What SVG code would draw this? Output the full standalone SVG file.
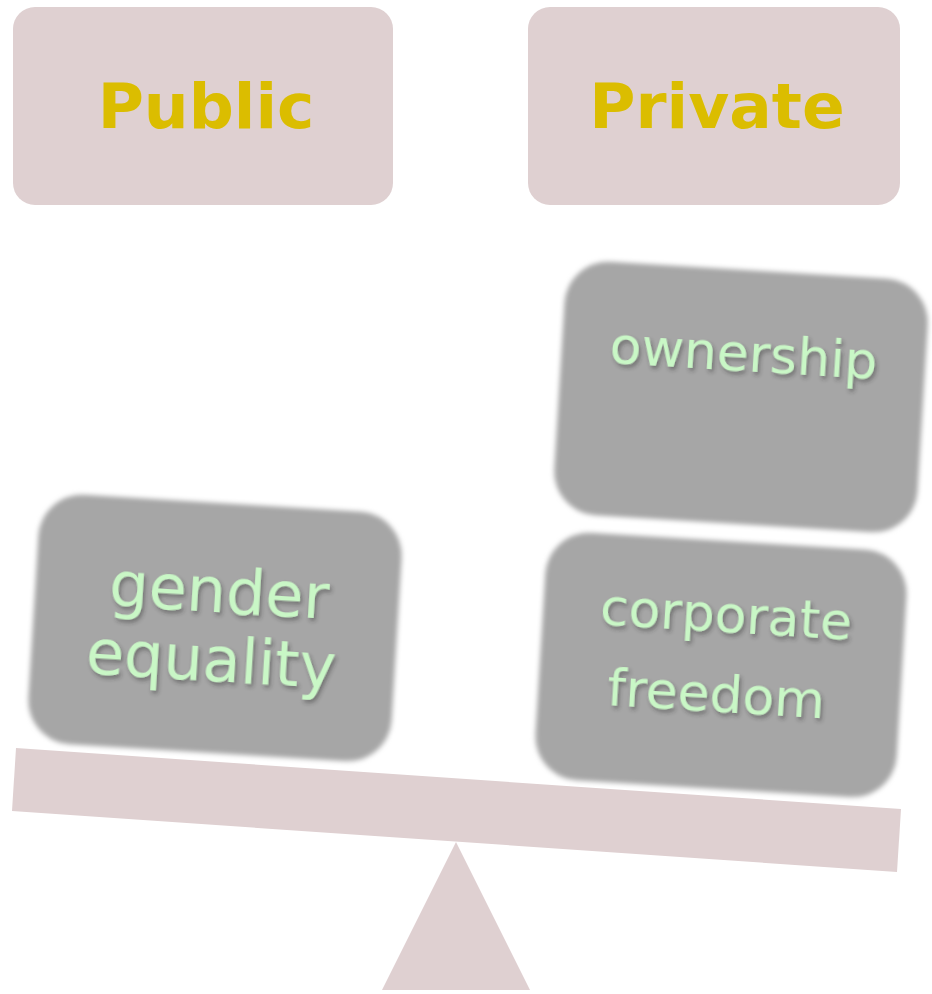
<svg xmlns="http://www.w3.org/2000/svg" width="932" height="994" viewBox="0 0 932 994">
  <style>
    .head { fill: #dfd0d1; }
    .head-label { font-family: "DejaVu Sans", Verdana, sans-serif; font-weight: bold; font-size: 63px; fill: #dbbd00; text-anchor: middle; }
    .block { fill: #a6a6a6; filter: url(#soft); }
    .block-label { font-family: "DejaVu Sans", Verdana, sans-serif; fill: #c9f7c6; text-anchor: middle; filter: url(#shade); }
    .scale { fill: #dfd0d1; }
  </style>
  <defs>
    <filter id="soft" x="-10%" y="-10%" width="120%" height="120%">
      <feGaussianBlur stdDeviation="2.8"/>
    </filter>
    <filter id="shade" x="-10%" y="-20%" width="120%" height="150%">
      <feDropShadow dx="2" dy="3" stdDeviation="2" flood-color="#2a2a2a" flood-opacity="0.45"/>
    </filter>
  </defs>

  <!-- headings -->
  <g id="public">
    <rect class="head" x="13" y="7" width="380" height="198" rx="22" ry="22"/>
    <text class="head-label" x="206" y="128">Public</text>
  </g>
  <g id="private">
    <rect class="head" x="528" y="7" width="372" height="198" rx="22" ry="22"/>
    <text class="head-label" x="717" y="128">Private</text>
  </g>

  <!-- seesaw -->
  <g id="seesaw">
    <polygon class="scale" points="16,748 901,809 897,872 12,811"/>
    <polygon class="scale" points="456,842 530,990 382,990"/>
  </g>

  <!-- weights -->
  <g id="gender-equality" transform="translate(215,628) rotate(3.5)">
    <rect class="block" x="-182" y="-125" width="364" height="250" rx="44" ry="44"/>
    <text class="block-label" font-size="62" x="2" y="-16">gender</text>
    <text class="block-label" font-size="62" x="-2" y="53">equality</text>
  </g>
  <g id="ownership" transform="translate(741,397) rotate(3.5)">
    <rect class="block" x="-182" y="-127" width="364" height="254" rx="44" ry="44"/>
    <text class="block-label" font-size="52" x="0" y="-26">ownership</text>
  </g>
  <g id="corporate-freedom" transform="translate(721,665) rotate(3.5)">
    <rect class="block" x="-181" y="-124" width="362" height="248" rx="44" ry="44"/>
    <text class="block-label" font-size="52" x="2" y="-33">corporate</text>
    <text class="block-label" font-size="52" x="-3" y="47">freedom</text>
  </g>
</svg>
